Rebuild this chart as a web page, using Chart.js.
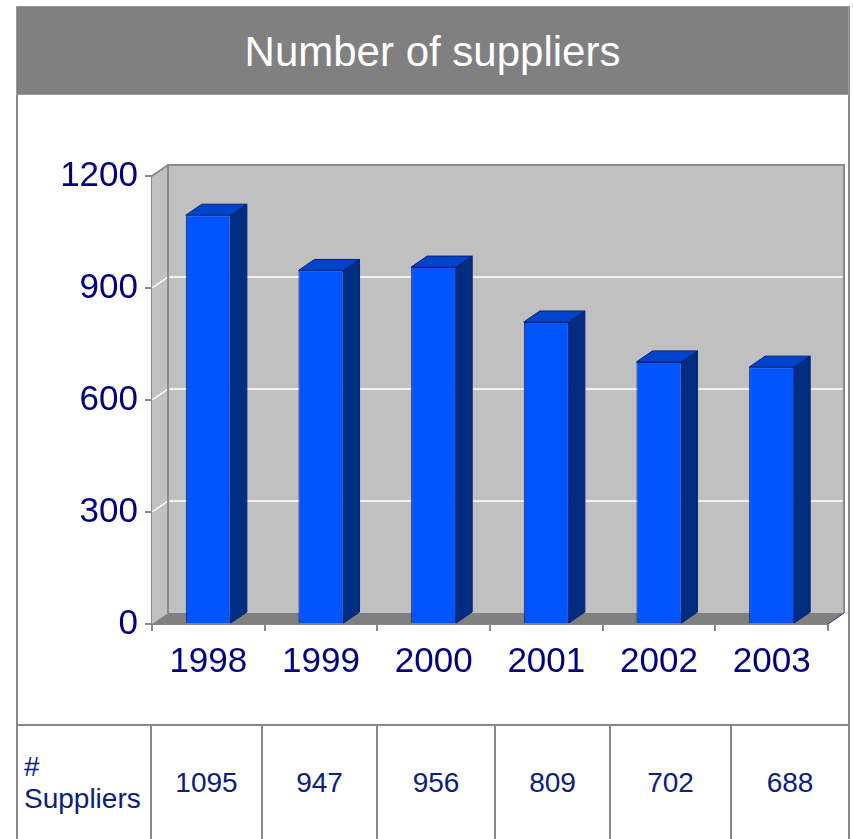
<!DOCTYPE html>
<html>
<head>
<meta charset="utf-8">
<title>Number of suppliers</title>
<script src="https://cdn.jsdelivr.net/npm/chart.js@4.4.0/dist/chart.umd.min.js"></script>
<style>
  html, body { margin: 0; height: 839px; overflow: hidden; background: #fff; font-family: "Liberation Sans", Arial, sans-serif; }
  #frame { position: absolute; left: 16px; top: 6px; width: 830px; height: 900px; border-left: 2px solid #888; border-right: 2px solid #888; }
  #header { position: absolute; left: 16px; top: 6px; width: 831px; height: 87px; background: #808080; border: 1px solid #9a9a9a;
            color: #fff; font-size: 42px; line-height: 89px; text-align: center; }
  #chart { position: absolute; left: 18px; top: 96px; }
  #table { position: absolute; left: 18px; top: 724px; width: 830px; height: 130px; border-top: 2px solid #888; display: flex; }
  #table div { box-sizing: border-box; height: 114px; display: flex; align-items: center; justify-content: center;
               color: #0a2080; font-size: 28px; }
  #table div + div { border-left: 2px solid #888; }
  #table .name { justify-content: flex-start; padding-left: 6px; line-height: 32px; }
</style>
</head>
<body>
<div id="frame"></div>
<div id="header">Number of suppliers</div>
<canvas id="chart" width="830" height="628"></canvas>
<div id="table"></div>
<script>
const years = ['1998', '1999', '2000', '2001', '2002', '2003'];
const suppliers = [1095, 947, 956, 809, 702, 688];
const yTicks = [0, 300, 600, 900, 1200];
const seriesName = '# Suppliers';

// widths of the data table columns (label column first)
const colWidths = [132, 111, 115, 118, 115, 121, 118];

// depth of the 3d walls and bars
const DX = 16, DY = 11;

function poly(ctx, pts, fill, stroke) {
  ctx.beginPath();
  pts.forEach((p, i) => i ? ctx.lineTo(p[0], p[1]) : ctx.moveTo(p[0], p[1]));
  ctx.closePath();
  if (fill) { ctx.fillStyle = fill; ctx.fill(); }
  if (stroke) { ctx.strokeStyle = stroke; ctx.lineWidth = 1; ctx.stroke(); }
}

const box3d = {
  id: 'box3d',
  beforeDatasetsDraw(chart) {
    const { ctx, chartArea: a, scales: { y } } = chart;
    const L = a.left, R = a.right, T = a.top, B = a.bottom;
    ctx.save();
    // back wall and side wall
    ctx.fillStyle = '#c0c0c0';
    ctx.fillRect(L + DX, T - DY, R - L, B - T);
    poly(ctx, [[L, T], [L + DX, T - DY], [L + DX, B - DY], [L, B]], '#c0c0c0');

    // grid lines run over the side wall and across the back
    ctx.strokeStyle = '#ffffff';
    ctx.lineWidth = 1.5;
    yTicks.slice(1, -1).forEach(v => {
      const py = y.getPixelForValue(v);
      ctx.beginPath();
      ctx.moveTo(L, py);
      ctx.lineTo(L + DX, py - DY);
      ctx.lineTo(R + DX, py - DY);
      ctx.stroke();
    });

    // floor
    poly(ctx, [[L, B], [L + DX, B - DY], [R + DX, B - DY], [R, B]], '#808080');
    ctx.strokeStyle = '#1b2f9a';
    ctx.lineWidth = 1;
    ctx.beginPath();
    ctx.moveTo(R, B);
    ctx.lineTo(R + DX, B - DY);
    ctx.stroke();

    // wall edges
    ctx.strokeStyle = '#8a8a8a';
    ctx.lineWidth = 2;
    ctx.beginPath();
    ctx.moveTo(L, T);
    ctx.lineTo(L + DX, T - DY);
    ctx.lineTo(R + DX, T - DY);
    ctx.lineTo(R + DX, B - DY);
    ctx.moveTo(L + DX, T - DY);
    ctx.lineTo(L + DX, B - DY);
    ctx.stroke();
    ctx.restore();
  },
  afterDatasetsDraw(chart) {
    const { ctx } = chart;
    ctx.save();
    chart.getDatasetMeta(0).data.forEach(bar => {
      const { x, y, base, width } = bar.getProps(['x', 'y', 'base', 'width'], true);
      const l = x - width / 2, r = x + width / 2;
      // top and right faces of each column
      poly(ctx, [[l, y], [l + DX, y - DY], [r + DX, y - DY], [r, y]], '#0044cc', '#0a1f7a');
      poly(ctx, [[r, y], [r + DX, y - DY], [r + DX, base - DY], [r, base]], '#002d80', '#0a1f7a');
    });
    ctx.restore();
  }
};

new Chart(document.getElementById('chart'), {
  type: 'bar',
  data: {
    labels: years,
    datasets: [{
      label: seriesName,
      data: suppliers,
      backgroundColor: '#0055ff',
      borderColor: '#0a1f7a',
      borderWidth: 1,
      barPercentage: 0.4,
      categoryPercentage: 1.0
    }]
  },
  options: {
    responsive: false,
    animation: false,
    devicePixelRatio: 1,
    layout: { padding: { top: 80, right: 20, left: 0, bottom: 0 } },
    plugins: {
      legend: { display: false },
      tooltip: { enabled: false }
    },
    scales: {
      x: {
        offset: true,
        grid: { offset: true, drawOnChartArea: false, tickLength: 7, color: '#888', lineWidth: 2 },
        border: { color: '#888', width: 2 },
        ticks: { color: '#000080', font: { family: 'Liberation Sans', size: 35 }, padding: 10, maxRotation: 0 },
        afterFit: s => { s.height = 100; }
      },
      y: {
        min: yTicks[0],
        max: yTicks[yTicks.length - 1],
        afterBuildTicks: s => { s.ticks = yTicks.map(v => ({ value: v })); },
        grid: { drawOnChartArea: false, tickLength: 7, color: '#888', lineWidth: 2 },
        border: { color: '#888', width: 2 },
        ticks: { color: '#000080', font: { family: 'Liberation Sans', size: 35 }, padding: 7, callback: v => String(v) },
        afterFit: s => { s.width = 134; }
      }
    }
  },
  plugins: [box3d]
});

// data table under the chart
const table = document.getElementById('table');
[seriesName.replace(' ', '<br>')].concat(suppliers).forEach((v, i) => {
  const cell = document.createElement('div');
  cell.style.width = colWidths[i] + 'px';
  if (i === 0) cell.className = 'name';
  cell.innerHTML = v;
  table.appendChild(cell);
});
</script>
</body>
</html>
